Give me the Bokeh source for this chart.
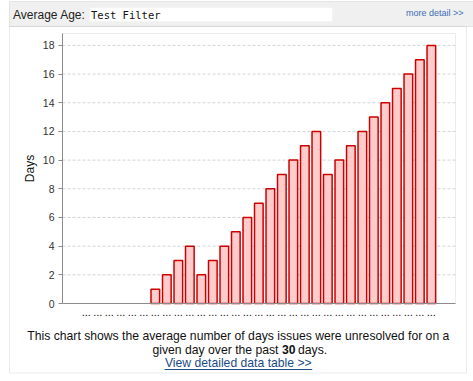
from bokeh.plotting import figure
from bokeh.models import (Range1d, BoxAnnotation, Label, FixedTicker, ColumnDataSource,
                          LinearAxis)
from bokeh.embed import file_html
from bokeh.resources import INLINE

# ---- data ----
days = list(range(31))
day_labels = ["..."] * 31
avg_age = [0, 0, 0, 0, 0, 0, 1, 2, 3, 4, 2, 3, 4, 5, 6, 7, 8, 9, 10, 11, 12,
           9, 10, 11, 12, 13, 14, 15, 16, 17, 18]
y_ticks = [0, 2, 4, 6, 8, 10, 12, 14, 16, 18]
title_text = "Average Age:"
filter_name = "Test Filter"
past_days = 30

FONT = "Liberation Sans"
W, H = 473, 381
# pixel box of the chart area, and the data shown inside it
PX_L, PX_R, PX_T, PX_B = 62, 455, 33, 303
X_LO, X_HI = -2.07, 32.1
Y_LO, Y_HI = 0.0, 18.83

sx = (PX_R - PX_L) / (X_HI - X_LO)
sy = (PX_B - PX_T) / (Y_HI - Y_LO)
x_range = Range1d(X_LO - PX_L / sx, X_HI + (W - PX_R) / sx)
y_range = Range1d(Y_LO - (H - PX_B) / sy, Y_HI + PX_T / sy)

bar_x = [d for d, v in zip(days, avg_age) if v > 0]
bar_top = [v for v in avg_age if v > 0]
src = ColumnDataSource(dict(x=bar_x, top=bar_top))

p = figure(width=W, height=H, output_backend="svg", toolbar_location=None,
           x_range=x_range, y_range=y_range,
           x_axis_location=None, y_axis_location=None, min_border=0)
p.outline_line_color = None
p.background_fill_color = "white"
p.border_fill_color = "white"
p.grid.visible = False

# page chrome: header bar and panel
def box(l, r, t, b, **kw):
    return BoxAnnotation(left=l, right=r, top=t, bottom=b,
                         left_units="canvas", right_units="canvas",
                         top_units="canvas", bottom_units="canvas", **kw)

p.add_layout(box(9, 490, 1, 26, fill_color="#f0f0f0", fill_alpha=1,
                 line_color="#bbbbbb", line_width=1, level="underlay"))
p.add_layout(box(89.3, 331.7, 7.3, 20.7, fill_color="white", fill_alpha=1,
                 line_color=None, level="underlay"))
p.add_layout(box(9, 466, 26, 372.5, fill_alpha=0, line_color="#bbbbbb",
                 line_width=1, level="underlay"))
# chart area outline (top / right edges)
p.add_layout(box(PX_L, PX_R, PX_T, PX_B, fill_alpha=0, line_color="#c0c0c0",
                 line_width=1, level="underlay"))

# horizontal dashed grid lines
grid_y = [t for t in y_ticks if t > Y_LO]
p.segment(x0=[X_LO] * len(grid_y), x1=[X_HI] * len(grid_y), y0=grid_y, y1=grid_y,
          line_color="#d4d4d4", line_width=1, line_dash="3 2")

p.vbar(x="x", top="top", bottom=0, width=0.75, source=src,
       fill_color="#ffcccc", line_color="#cc0000", line_width=1.5)

# axes, fixed to the chart area's edges
xaxis = LinearAxis(fixed_location=Y_LO, bounds=(X_LO, X_HI))
xaxis.ticker = FixedTicker(ticks=days)
xaxis.major_label_overrides = {d: lab for d, lab in zip(days, day_labels)}
xaxis.major_tick_out = 0
xaxis.major_tick_in = 0
xaxis.minor_tick_line_color = None
xaxis.axis_line_color = "#8c8c8c"
xaxis.major_label_text_font = FONT
xaxis.major_label_text_font_size = "11px"
xaxis.major_label_text_color = "#111111"
xaxis.major_label_standoff = 4
p.add_layout(xaxis, "below")

yaxis = LinearAxis(fixed_location=X_LO, bounds=(Y_LO, Y_HI))
yaxis.ticker = FixedTicker(ticks=y_ticks)
yaxis.axis_label = "Days"
yaxis.axis_label_text_font = FONT
yaxis.axis_label_text_font_size = "12px"
yaxis.axis_label_text_font_style = "normal"
yaxis.axis_label_text_color = "#111111"
yaxis.axis_label_standoff = 3
yaxis.axis_line_color = "#8c8c8c"
yaxis.major_tick_line_color = "#8c8c8c"
yaxis.major_tick_out = 4
yaxis.major_tick_in = 0
yaxis.minor_tick_line_color = None
yaxis.major_label_text_font = FONT
yaxis.major_label_text_font_size = "10.5px"
yaxis.major_label_text_color = "#333333"
yaxis.major_label_standoff = 4
p.add_layout(yaxis, "left")

# texts
def lab(x, y, text, **kw):
    kw.setdefault("text_font", FONT)
    kw.setdefault("text_baseline", "middle")
    kw.setdefault("text_font_size", "12.2px")
    kw.setdefault("text_color", "#111111")
    return Label(x=x, y=y, x_units="canvas", y_units="canvas", text=text, **kw)

p.add_layout(lab(12.5, 14, title_text, text_font_size="12px", text_color="#222222"))
p.add_layout(lab(90.5, 14, filter_name, text_font="DejaVu Sans Mono",
                 text_font_size="10.5px"))
p.add_layout(lab(463, 12.7, "more detail >>", text_font_size="9px",
                 text_color="#3c6eb4", text_align="right"))

p.add_layout(lab(237.8, 335,
                 "This chart shows the average number of days issues were unresolved for on a",
                 text_align="center"))
p.add_layout(lab(278, 349.3, "given day over the past", text_align="right"))
p.add_layout(lab(281.5, 349.3, str(past_days), text_font_style="bold"))
p.add_layout(lab(297.5, 349.3, "days."))
p.add_layout(lab(237.8, 362.7, "View detailed data table >>",
                 text_color="#1d4b84", text_align="center"))
p.add_layout(box(164, 311.7, 368.5, 369.5, fill_color="#1d4b84", fill_alpha=1,
                 line_color=None))

open("out.html", "w").write(file_html(p, INLINE))
